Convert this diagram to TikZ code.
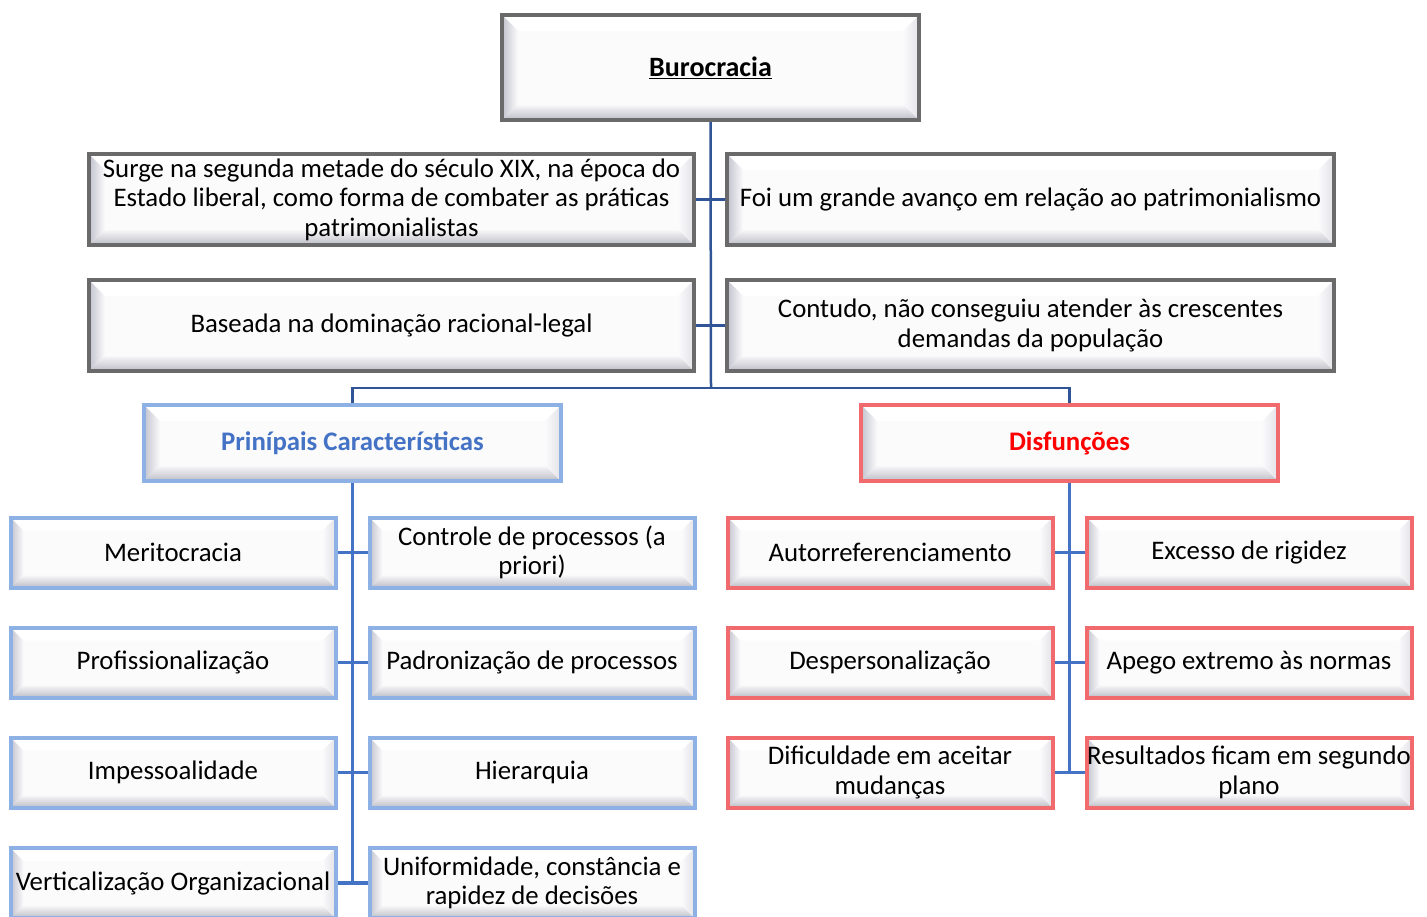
\documentclass[tikz,border=0pt]{standalone}
\usepackage{fontspec}
\setmainfont{Carlito}
\usetikzlibrary{calc}
\definecolor{boxfill}{HTML}{FBFBFC}
\definecolor{bevL}{HTML}{C2C2CE}
\definecolor{bevB}{HTML}{BCBCC6}
\definecolor{bevR}{HTML}{E2E2E8}
\definecolor{grayb}{HTML}{6A6A6A}
\definecolor{blueb}{HTML}{8DB1E4}
\definecolor{redb}{HTML}{F06A6E}
\definecolor{connA}{HTML}{2F5597}
\definecolor{connB}{HTML}{4472C4}
\definecolor{redtxt}{HTML}{FF0000}
\pgfdeclarelayer{bg}
\pgfsetlayers{bg,main}
\tikzset{
  bev/.style={path picture={
    \coordinate (pSW) at (path picture bounding box.south west);
    \coordinate (pNW) at (path picture bounding box.north west);
    \coordinate (pSE) at (path picture bounding box.south east);
    \coordinate (pNE) at (path picture bounding box.north east);
    \fill[white] (pNW) -- (pNE) -- ($(pNE)+(-#1,-#1)$) -- ($(pNW)+(#1,-#1)$) -- cycle;
    \shade[left color=bevL, right color=boxfill] (pSW) -- (pNW) -- ($(pNW)+(#1,-#1)$) -- ($(pSW)+(#1,#1)$) -- cycle;
    \shade[bottom color=bevB, top color=boxfill] (pSW) -- ($(pSW)+(#1,#1)$) -- ($(pSE)+(-#1,#1)$) -- (pSE) -- cycle;
    \shade[right color=bevR, left color=boxfill] (pSE) -- ($(pSE)+(-#1,#1)$) -- ($(pNE)+(-#1,-#1)$) -- (pNE) -- cycle;
  }},
  bev/.default=13pt,
  basebox/.style={rectangle, inner sep=0pt, align=center, fill=boxfill,
    line width=4pt, font=\fontsize{26.8}{29.5}\selectfont},
  graybox/.style={basebox, draw=grayb, bev=16pt},
  bluebox/.style={basebox, draw=blueb, bev, minimum width=325pt, minimum height=70pt},
  redbox/.style={basebox, draw=redb, bev, minimum width=325pt, minimum height=70pt},
  connA/.style={draw=connA, line width=2.5pt},
  connB/.style={draw=connB, line width=3.5pt},
}
\begin{document}
\begin{tikzpicture}[x=1pt,y=-1pt]
\useasboundingbox (0,0) rectangle (1427,916);

\node[graybox, minimum width=417pt, minimum height=105pt,
  font=\fontsize{28}{30}\selectfont] (bur) at (710.5,67.5)
  {\textbf{\underline{Burocracia}}};

\node[graybox, minimum width=605pt, minimum height=91pt] (s1) at (391.5,199.5)
  {Surge na segunda metade do século XIX, na época do\\Estado liberal, como forma de combater as práticas\\patrimonialistas};
\node[graybox, minimum width=607pt, minimum height=91pt] (s2) at (1030.5,199.5)
  {Foi um grande avanço em relação ao patrimonialismo};
\node[graybox, minimum width=605pt, minimum height=91pt] (s3) at (391.5,325.5)
  {Baseada na dominação racional-legal};
\node[graybox, minimum width=607pt, minimum height=91pt] (s4) at (1030.5,325.5)
  {Contudo, não conseguiu atender às crescentes\\demandas da população};

\node[basebox, draw=blueb, bev=16pt, minimum width=417pt, minimum height=76pt,
  text=connB] (car) at (352.5,443) {\textbf{Prinípais Características}};
\node[basebox, draw=redb, bev=16pt, minimum width=417pt, minimum height=76pt,
  text=redtxt] (dis) at (1069.5,443) {\textbf{Disfunções}};

\node[bluebox] (b1l) at (173,552.5) {Meritocracia};
\node[bluebox] (b1r) at (532,552.5) {Controle de processos (a\\priori)};
\node[bluebox] (b2l) at (173,662.5) {Profissionalização};
\node[bluebox] (b2r) at (532,662.5) {Padronização de processos};
\node[bluebox] (b3l) at (173,772.5) {Impessoalidade};
\node[bluebox] (b3r) at (532,772.5) {Hierarquia};
\node[bluebox] (b4l) at (173,883) {Verticalização Organizacional};
\node[bluebox] (b4r) at (532,883) {Uniformidade, constância e\\rapidez de decisões};

\node[redbox] (r1l) at (890,552.5) {Autorreferenciamento};
\node[redbox] (r1r) at (1249,552.5) {Excesso de rigidez};
\node[redbox] (r2l) at (890,662.5) {Despersonalização};
\node[redbox] (r2r) at (1249,662.5) {Apego extremo às normas};
\node[redbox] (r3l) at (890,772.5) {Dificuldade em aceitar\\mudanças};
\node[redbox] (r3r) at (1249,772.5) {Resultados ficam em segundo\\plano};

\coordinate (j) at (711,388);

\begin{pgfonlayer}{bg}
\draw[connA] (bur.south) -- (j);
\draw[connA] (car.north) |- (j) -| (dis.north);
\draw[connA] (s1.east) -- (s2.west);
\draw[connA] (s3.east) -- (s4.west);

\draw[connB] (car.south) -- (car.south |- b4l.east);
\draw[connB] (b1l.east) -- (b1r.west);
\draw[connB] (b2l.east) -- (b2r.west);
\draw[connB] (b3l.east) -- (b3r.west);
\draw[connB] (b4l.east) -- (b4r.west);

\draw[connB] (dis.south) -- (dis.south |- r3l.east);
\draw[connB] (r1l.east) -- (r1r.west);
\draw[connB] (r2l.east) -- (r2r.west);
\draw[connB] (r3l.east) -- (r3r.west);
\end{pgfonlayer}
\end{tikzpicture}
\end{document}
